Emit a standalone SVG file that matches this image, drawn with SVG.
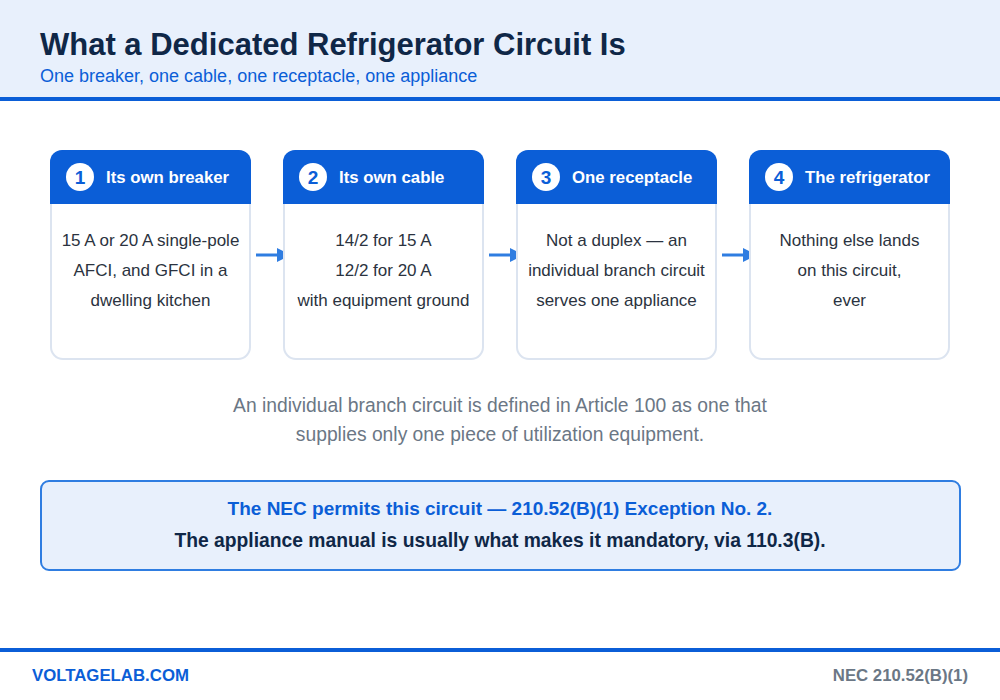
<svg xmlns="http://www.w3.org/2000/svg" width="1000" height="700" viewBox="0 0 1000 700">
<style>
text{font-family:"Liberation Sans",Arial,sans-serif}
.card{fill:#fff;stroke:#DCE4F0;stroke-width:2}
.hdr{fill:#0B5ED7}
.num{fill:#0B5ED7;font-weight:bold;font-size:19px;text-anchor:middle}
.ht{fill:#fff;font-weight:bold;font-size:16.8px}
.body{fill:#2B3340;font-size:17px;text-anchor:middle}
.conn{stroke:#2F7DE1;stroke-width:3;fill:none}
</style>
<defs>
<marker id="ah" viewBox="0 0 14 14" refX="0" refY="7" markerWidth="14" markerHeight="14" orient="auto" markerUnits="userSpaceOnUse">
<path d="M0,0 L14,7 L0,14 z" fill="#2F7DE1"/>
</marker>
</defs>
<rect width="1000" height="700" fill="#fff"/>
<g id="header">
<rect x="0" y="0" width="1000" height="98" fill="#E8F0FC"/>
<rect x="0" y="97" width="1000" height="4" fill="#0B5ED7"/>
<text x="40" y="55" font-size="31" font-weight="bold" fill="#0F2747">What a Dedicated Refrigerator Circuit Is</text>
<text x="40" y="82" font-size="18" fill="#0B5ED7">One breaker, one cable, one receptacle, one appliance</text>
</g>
<g id="connectors">
<line class="conn" x1="256" y1="255" x2="277" y2="255" marker-end="url(#ah)"/>
<line class="conn" x1="489" y1="255" x2="510" y2="255" marker-end="url(#ah)"/>
<line class="conn" x1="722" y1="255" x2="743" y2="255" marker-end="url(#ah)"/>
</g>
<g id="node1">
<rect class="card" x="51" y="151" width="199" height="208" rx="12"/>
<path class="hdr" d="M50,204 V162 a12,12 0 0 1 12,-12 H239 a12,12 0 0 1 12,12 V204 z"/>
<circle cx="80" cy="177" r="14" fill="#fff"/>
<text class="num" x="80" y="184">1</text>
<text class="ht" x="106" y="183">Its own breaker</text>
<text class="body" x="150.5" y="246">15 A or 20 A single-pole</text>
<text class="body" x="150.5" y="276">AFCI, and GFCI in a</text>
<text class="body" x="150.5" y="306">dwelling kitchen</text>
</g>
<g id="node2">
<rect class="card" x="284" y="151" width="199" height="208" rx="12"/>
<path class="hdr" d="M283,204 V162 a12,12 0 0 1 12,-12 H472 a12,12 0 0 1 12,12 V204 z"/>
<circle cx="313" cy="177" r="14" fill="#fff"/>
<text class="num" x="313" y="184">2</text>
<text class="ht" x="339" y="183">Its own cable</text>
<text class="body" x="383.5" y="246">14/2 for 15 A</text>
<text class="body" x="383.5" y="276">12/2 for 20 A</text>
<text class="body" x="383.5" y="306">with equipment ground</text>
</g>
<g id="node3">
<rect class="card" x="517" y="151" width="199" height="208" rx="12"/>
<path class="hdr" d="M516,204 V162 a12,12 0 0 1 12,-12 H705 a12,12 0 0 1 12,12 V204 z"/>
<circle cx="546" cy="177" r="14" fill="#fff"/>
<text class="num" x="546" y="184">3</text>
<text class="ht" x="572" y="183">One receptacle</text>
<text class="body" x="616.5" y="246">Not a duplex — an</text>
<text class="body" x="616.5" y="276">individual branch circuit</text>
<text class="body" x="616.5" y="306">serves one appliance</text>
</g>
<g id="node4">
<rect class="card" x="750" y="151" width="199" height="208" rx="12"/>
<path class="hdr" d="M749,204 V162 a12,12 0 0 1 12,-12 H938 a12,12 0 0 1 12,12 V204 z"/>
<circle cx="779" cy="177" r="14" fill="#fff"/>
<text class="num" x="779" y="184">4</text>
<text class="ht" x="805" y="183">The refrigerator</text>
<text class="body" x="849.5" y="246">Nothing else lands</text>
<text class="body" x="849.5" y="276">on this circuit,</text>
<text class="body" x="849.5" y="306">ever</text>
</g>
<g id="caption">
<text x="500" y="412" font-size="19.3" fill="#6B7785" text-anchor="middle">An individual branch circuit is defined in Article 100 as one that</text>
<text x="500" y="441" font-size="19.3" fill="#6B7785" text-anchor="middle">supplies only one piece of utilization equipment.</text>
</g>
<g id="callout">
<rect x="41" y="481" width="919" height="89" rx="8" fill="#E8F0FC" stroke="#2F7DE1" stroke-width="2"/>
<text x="500" y="515" font-size="19" font-weight="bold" fill="#0B5ED7" text-anchor="middle">The NEC permits this circuit — 210.52(B)(1) Exception No. 2.</text>
<text x="500" y="547" font-size="19.3" font-weight="bold" fill="#0F2747" text-anchor="middle">The appliance manual is usually what makes it mandatory, via 110.3(B).</text>
</g>
<g id="footer">
<rect x="0" y="648" width="1000" height="4" fill="#0B5ED7"/>
<text x="32" y="681" font-size="16.8" font-weight="bold" fill="#0B5ED7">VOLTAGELAB.COM</text>
<text x="968" y="681" font-size="16.8" font-weight="bold" fill="#6B7785" text-anchor="end">NEC 210.52(B)(1)</text>
</g>
</svg>
